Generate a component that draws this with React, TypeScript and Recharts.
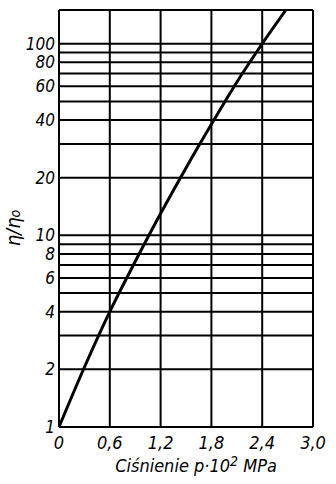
import { LineChart, Line, XAxis, YAxis, CartesianGrid, ReferenceLine, Label } from "recharts"

const pressure = [0, 0.3, 0.6, 0.9, 1.2, 1.5, 1.8, 2.1, 2.4, 2.68]
const viscosityRatio = [1, 2.05, 4, 7.3, 13, 22.5, 38, 63, 100, 150]

const xTicks = [0, 0.6, 1.2, 1.8, 2.4, 3.0]
const yGridTicks = [1, 2, 3, 4, 5, 6, 7, 8, 9, 10, 20, 30, 40, 50, 60, 70, 80, 90, 100]
const yLabelTicks = [1, 2, 4, 6, 8, 10, 20, 40, 60, 80, 100]

const data = pressure.map((p, i) => ({ p, ratio: viscosityRatio[i] }))

const FONT = "'DejaVu Sans Condensed', 'DejaVu Sans', sans-serif"
const textStyle = { fontStretch: "condensed" as const }

function YTick(props: any) {
  const { x, y, payload } = props
  if (!yLabelTicks.includes(payload.value)) return null
  return (
    <text x={x + 4} y={y} dy={6} textAnchor="end" fontFamily={FONT} fontStyle="italic" fontSize={17} fill="#000" style={textStyle}>
      {payload.value}
    </text>
  )
}

function XTick(props: any) {
  const { x, y, payload } = props
  return (
    <text x={x} y={y} dy={14} textAnchor="middle" fontFamily={FONT} fontStyle="italic" fontSize={18} fill="#000" style={textStyle}>
      {payload.value.toFixed(1).replace(".", ",").replace(/^0,0$/, "0")}
    </text>
  )
}

function XTitle(props: any) {
  const { viewBox } = props
  const cx = viewBox.x + viewBox.width / 2 + 10
  return (
    <text x={cx} y={viewBox.y + 45} textAnchor="middle" fontFamily={FONT} fontStyle="italic" fontSize={18} fill="#000" style={textStyle}>
      Ciśnienie p·10<tspan dy={-6} fontSize={14}>2</tspan>
      <tspan dy={6}> MPa</tspan>
    </text>
  )
}

export default function App() {
  return (
    <div style={{ position: "absolute", left: 0, top: 0, background: "#fff" }}>
      <LineChart width={336} height={484} data={data} margin={{ top: 10, right: 23, left: 0, bottom: 0 }}>
        <CartesianGrid stroke="#000" strokeWidth={2} horizontal vertical />
        <XAxis
          dataKey="p"
          type="number"
          domain={[0, 3]}
          ticks={xTicks}
          height={57}
          tick={<XTick />}
          tickLine={false}
          axisLine={{ stroke: "#000", strokeWidth: 2 }}
        >
          <Label content={<XTitle />} />
        </XAxis>
        <YAxis
          type="number"
          scale="log"
          domain={[1, 150]}
          allowDataOverflow
          ticks={yGridTicks}
          interval={0}
          width={59}
          tick={<YTick />}
          tickLine={false}
          axisLine={{ stroke: "#000", strokeWidth: 2 }}
        />
        <ReferenceLine y={150} stroke="#000" strokeWidth={2} />
        <ReferenceLine x={3} stroke="#000" strokeWidth={2} />
        <Line
          dataKey="ratio"
          type="monotone"
          stroke="#000"
          strokeWidth={3}
          dot={false}
          isAnimationActive={false}
        />
        <text
          x={20}
          y={228}
          transform="rotate(-90 20 228)"
          textAnchor="middle"
          fontFamily={FONT}
          fontStyle="italic"
          fontSize={20}
          fill="#000"
          style={textStyle}
        >
          η/η<tspan fontSize={14}>o</tspan>
        </text>
      </LineChart>
    </div>
  )
}
